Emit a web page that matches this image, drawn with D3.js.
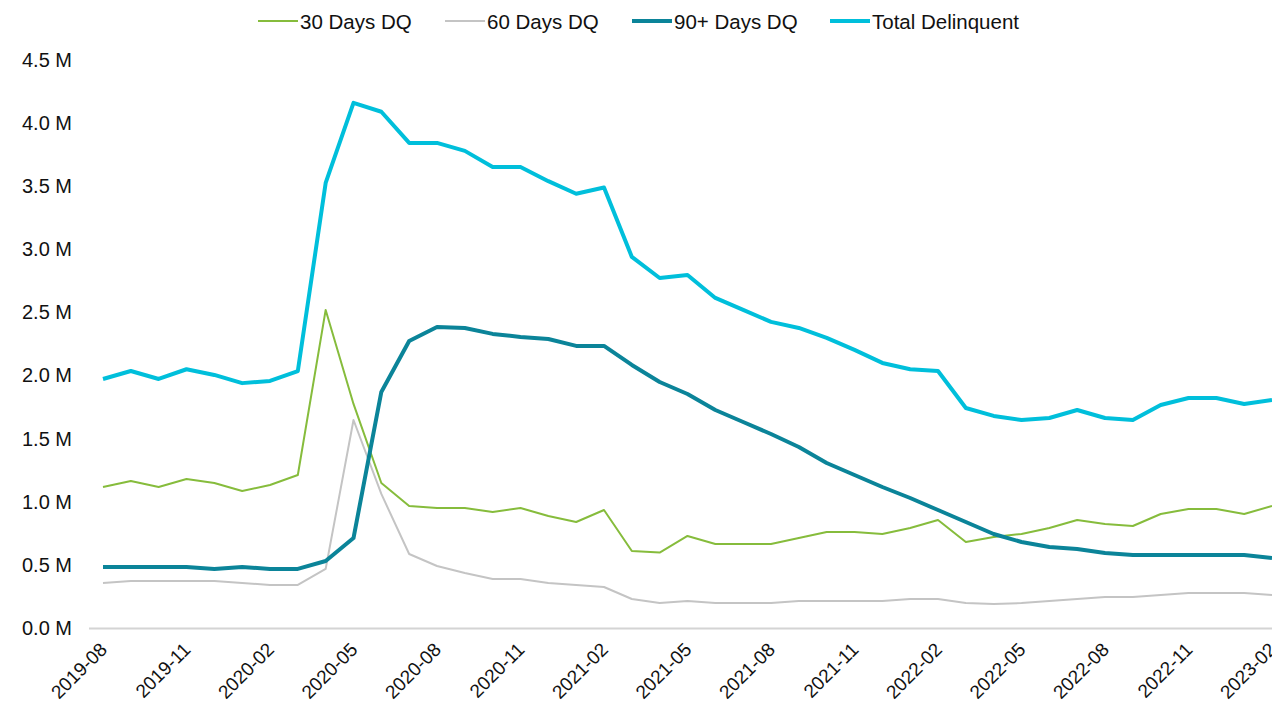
<!DOCTYPE html>
<html>
<head>
<meta charset="utf-8">
<script src="https://cdn.jsdelivr.net/npm/d3@7"></script>
<style>
  html, body { margin: 0; padding: 0; background: #fff; }
  svg { display: block; font-family: "Liberation Sans", Arial, sans-serif; }
</style>
</head>
<body>
<svg id="chart" width="1272" height="707"></svg>
<script>
const months = ["2019-08","2019-09","2019-10","2019-11","2019-12","2020-01","2020-02","2020-03","2020-04","2020-05",
  "2020-06","2020-07","2020-08","2020-09","2020-10","2020-11","2020-12","2021-01","2021-02","2021-03",
  "2021-04","2021-05","2021-06","2021-07","2021-08","2021-09","2021-10","2021-11","2021-12","2022-01",
  "2022-02","2022-03","2022-04","2022-05","2022-06","2022-07","2022-08","2022-09","2022-10","2022-11",
  "2022-12","2023-01","2023-02"];
const tickLabels = ["2019-08","2019-11","2020-02","2020-05","2020-08","2020-11","2021-02","2021-05","2021-08",
  "2021-11","2022-02","2022-05","2022-08","2022-11","2023-02"];
const yTicks = [0, 0.5, 1.0, 1.5, 2.0, 2.5, 3.0, 3.5, 4.0, 4.5];

const dq30 = [1.117,1.165,1.117,1.18,1.149,1.086,1.133,1.212,2.52,1.775,
  1.149,0.967,0.951,0.951,0.919,0.951,0.887,0.84,0.935,0.61,
  0.598,0.729,0.666,0.666,0.666,0.713,0.761,0.761,0.745,0.792,
  0.856,0.681,0.721,0.745,0.792,0.856,0.824,0.808,0.903,0.943,
  0.943,0.903,0.967];
const dq60 = [0.357,0.372,0.372,0.372,0.372,0.357,0.341,0.341,0.468,1.648,
  1.062,0.586,0.491,0.436,0.388,0.388,0.357,0.341,0.325,0.23,
  0.198,0.214,0.198,0.198,0.198,0.214,0.214,0.214,0.214,0.23,
  0.23,0.198,0.19,0.198,0.214,0.23,0.246,0.246,0.261,0.277,
  0.277,0.277,0.261];
const dq90 = [0.483,0.483,0.483,0.483,0.468,0.483,0.468,0.468,0.531,0.713,
  1.87,2.274,2.385,2.377,2.33,2.306,2.29,2.235,2.235,2.084,
  1.949,1.854,1.727,1.632,1.537,1.434,1.307,1.212,1.117,1.03,
  0.935,0.84,0.745,0.681,0.642,0.626,0.594,0.578,0.578,0.578,
  0.578,0.578,0.555];
const total = [1.973,2.036,1.973,2.05,2.005,1.94,1.957,2.036,3.526,4.16,
  4.09,3.843,3.843,3.78,3.653,3.653,3.54,3.44,3.49,2.94,
  2.773,2.797,2.615,2.52,2.425,2.377,2.298,2.203,2.1,2.05,
  2.036,1.743,1.68,1.648,1.664,1.727,1.664,1.648,1.767,1.822,
  1.822,1.775,1.807];

const seriesNames = ["30 Days DQ","60 Days DQ","90+ Days DQ","Total Delinquent"];
const seriesValues = [dq30, dq60, dq90, total];
const seriesColors = ["#86bc3c","#c4c4c4","#0b8499","#00bfdb"];
const seriesWidths = [2, 2, 4, 4];

const svg = d3.select("#chart");
const x = d3.scalePoint().domain(months).range([103, 1272]);
const y = d3.scaleLinear().domain([0, 4.5]).range([628, 60]);

// y labels
const yAxis = d3.axisLeft(y).tickValues(yTicks).tickSize(0).tickPadding(0)
  .tickFormat(d => d3.format(".1f")(d) + " M");
const gy = svg.append("g").attr("transform", "translate(72,0)").call(yAxis);
gy.select(".domain").remove();
gy.selectAll("text").attr("font-size", 20).attr("fill", "#111")
  .attr("font-family", "'Liberation Sans', Arial, sans-serif");

// x axis
const xAxis = d3.axisBottom(x).tickValues(tickLabels).tickSize(0).tickPadding(0);
const gx = svg.append("g").attr("transform", "translate(0,628)").call(xAxis);
gx.select(".domain").remove();
gx.selectAll("text")
  .attr("font-size", 19).attr("fill", "#111")
  .attr("font-family", "'Liberation Sans', Arial, sans-serif")
  .attr("text-anchor", "end")
  .attr("dy", "0.35em")
  .attr("transform", "translate(0,18) rotate(-45)");
svg.append("line").attr("x1", 89).attr("x2", 1272).attr("y1", 628.5).attr("y2", 628.5)
  .attr("stroke", "#d4d4d4").attr("stroke-width", 2);

// lines
const line = d3.line().x((d, i) => x(months[i])).y(d => y(d));
seriesValues.forEach((vals, k) => {
  svg.append("path").datum(vals)
    .attr("fill", "none")
    .attr("stroke", seriesColors[k])
    .attr("stroke-width", seriesWidths[k])
    .attr("stroke-linejoin", "round")
    .attr("d", line);
});

// legend
const legendX = [258, 445, 632, 830];
const lg = svg.append("g");
seriesNames.forEach((name, k) => {
  lg.append("line").attr("x1", legendX[k]).attr("x2", legendX[k] + 40)
    .attr("y1", 21).attr("y2", 21)
    .attr("stroke", seriesColors[k]).attr("stroke-width", seriesWidths[k]);
  lg.append("text").attr("x", legendX[k] + 42).attr("y", 29)
    .attr("font-size", 20.5).attr("fill", "#111").text(name);
});
</script>
</body>
</html>
